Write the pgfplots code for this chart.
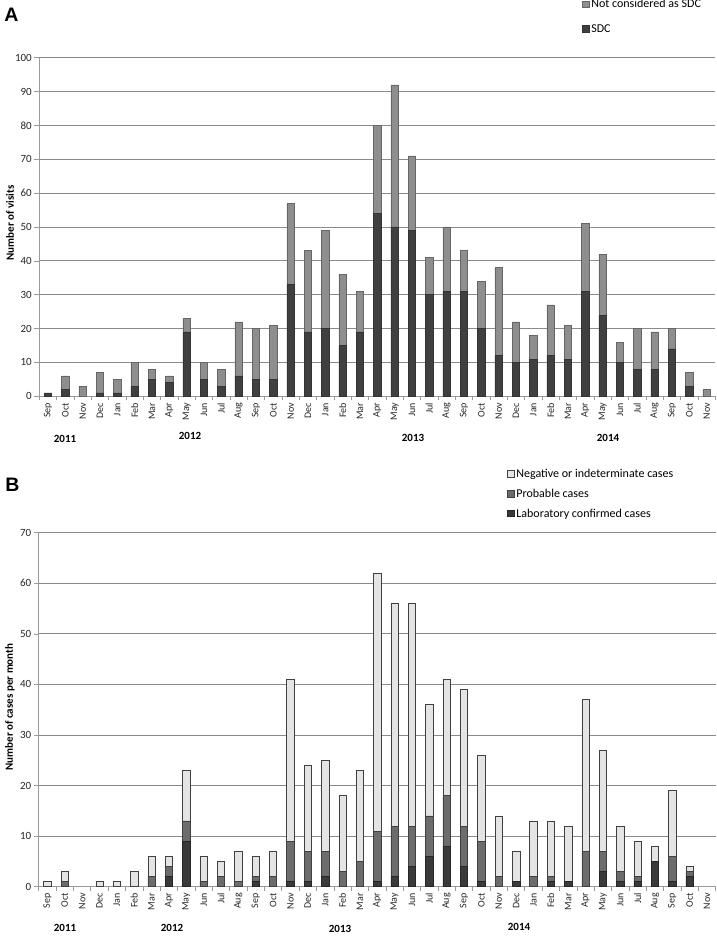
\documentclass[border=0pt]{standalone}
\usepackage{pgfplots}
\pgfplotsset{compat=1.18}
\usepackage{pgfplotstable}
\usepackage{fontspec}
\setmainfont{Carlito}
\newfontfamily\arialfont{Liberation Sans}

\definecolor{sdc}{HTML}{404040}
\definecolor{nsdc}{HTML}{8E8E8E}
\definecolor{conf}{HTML}{3A3A3A}
\definecolor{prob}{HTML}{6C6C6C}
\definecolor{neg}{HTML}{E4E4E4}
\definecolor{gridc}{HTML}{8A8A8A}
\definecolor{axc}{HTML}{9A9A9A}

\pgfplotstableread{
x sdc nsdc
0 1 0
1 2 4
2 0 3
3 1 6
4 1 4
5 3 7
6 5 3
7 4 2
8 19 4
9 5 5
10 3 5
11 6 16
12 5 15
13 5 16
14 33 24
15 19 24
16 20 29
17 15 21
18 19 12
19 54 26
20 50 42
21 49 22
22 30 11
23 31 19
24 31 12
25 20 14
26 12 26
27 10 12
28 11 7
29 12 15
30 11 10
31 31 20
32 24 18
33 10 6
34 8 12
35 8 11
36 14 6
37 3 4
38 0 2
}\dataA

\pgfplotstableread{
x conf prob neg
0 0 0 1
1 0 1 2
2 0 0 0
3 0 0 1
4 0 0 1
5 0 0 3
6 0 2 4
7 2 2 2
8 9 4 10
9 0 1 5
10 0 2 3
11 0 1 6
12 1 1 4
13 0 2 5
14 1 8 32
15 1 6 17
16 2 5 18
17 0 3 15
18 0 5 18
19 1 10 51
20 2 10 44
21 4 8 44
22 6 8 22
23 8 10 23
24 4 8 27
25 1 8 17
26 0 2 12
27 1 0 6
28 0 2 11
29 1 1 11
30 1 0 11
31 0 7 30
32 3 4 20
33 1 2 9
34 1 1 7
35 5 0 3
36 1 5 13
37 2 1 1
38 0 0 0
}\dataB

\pgfplotsset{
  panel/.style={
    scale only axis,
    xmin=-0.5, xmax=38.5, ymin=0,
    ybar stacked, bar width=7.4pt,
    axis lines*=left,
    axis line style={-, draw=axc, line width=0.7pt},
    ymajorgrids,
    major grid style={draw=gridc, line width=0.7pt},
    xtick={0,...,38},
    xticklabels={Sep,Oct,Nov,Dec,Jan,Feb,Mar,Apr,May,Jun,Jul,Aug,Sep,Oct,Nov,Dec,Jan,Feb,Mar,Apr,May,Jun,Jul,Aug,Sep,Oct,Nov,Dec,Jan,Feb,Mar,Apr,May,Jun,Jul,Aug,Sep,Oct,Nov},
    minor xtick={-0.5,0.5,...,38.5},
    minor tick length=4pt,
    major tick length=0pt,
    tick align=outside,
    tick style={draw=axc, line width=0.6pt},
    xticklabel style={rotate=90, anchor=east, font=\fontsize{10}{12}\selectfont, text=black!85, xshift=-3pt},
    yticklabel style={font=\fontsize{11}{12}\selectfont, text=black!85, xshift=-4pt},
    extra y tick style={major tick length=5pt, tick align=outside, grid=none, yticklabels={}},
    /pgf/number format/assume math mode=true,
    legend image code/.code={\draw[#1, line width=0.5pt] (0pt,-3pt) rectangle (6.5pt,3.5pt);},
    legend cell align=left,
    reverse legend,
  }
}

\begin{document}
\begin{tikzpicture}
\useasboundingbox (0pt,0pt) rectangle (716pt,936pt);

% Panel A
\begin{axis}[panel,
  at={(39.3pt,539.7pt)}, anchor=south west,
  width=676pt, height=338.6pt,
  ymax=100, ytick={0,10,...,100},
  extra y ticks={0,10,...,100},
  legend style={at={(axis description cs:0.803,1.178)}, anchor=north west, draw=none, fill=none, inner sep=0pt,
    font=\fontsize{12}{14}\selectfont, row sep=11pt,
    /tikz/every even column/.append style={column sep=1pt}},
]
\addplot[fill=sdc, draw=black!80, line width=0.5pt] table[x=x, y=sdc] {\dataA};
\addplot[fill=nsdc, draw=black!60, line width=0.5pt] table[x=x, y=nsdc] {\dataA};
\legend{SDC, Not considered as SDC}
\end{axis}

% Panel B
\begin{axis}[panel,
  at={(38.7pt,49.3pt)}, anchor=south west,
  width=677pt, height=354pt,
  ymax=70, ytick={0,10,...,70},
  extra y ticks={0,10,...,70},
  legend style={at={(axis description cs:0.692,1.186)}, anchor=north west, draw=none, fill=none, inner sep=0pt,
    font=\fontsize{12}{14}\selectfont, row sep=6pt,
    /tikz/every even column/.append style={column sep=1pt}},
]
\addplot[fill=conf, draw=black!85, line width=0.5pt] table[x=x, y=conf] {\dataB};
\addplot[fill=prob, draw=black!75, line width=0.5pt] table[x=x, y=prob] {\dataB};
\addplot[fill=neg, draw=black!75, line width=0.5pt] table[x=x, y=neg] {\dataB};
\legend{Laboratory confirmed cases, Probable cases, Negative or indeterminate cases}
\end{axis}

% axis titles
\node[rotate=90, font=\bfseries\fontsize{11}{13}\selectfont] at (10pt,713pt) {Number of visits};
\node[rotate=90, font=\bfseries\fontsize{11}{13}\selectfont] at (10pt,229pt) {Number of cases per month};

% panel letters
\node[font=\arialfont\bfseries\fontsize{19.5}{22}\selectfont] at (11.5pt,921pt) {A};
\node[font=\arialfont\bfseries\fontsize{19.5}{22}\selectfont] at (12.5pt,451.5pt) {B};

% year labels
\begin{scope}[every node/.style={font=\bfseries\fontsize{11}{13}\selectfont}]
\node at (65pt,497pt) {2011};
\node at (190pt,500pt) {2012};
\node at (413pt,498pt) {2013};
\node at (608pt,498pt) {2014};
\node at (65pt,8pt) {2011};
\node at (172pt,8pt) {2012};
\node at (340pt,7pt) {2013};
\node at (519pt,9pt) {2014};
\end{scope}
\end{tikzpicture}
\end{document}
